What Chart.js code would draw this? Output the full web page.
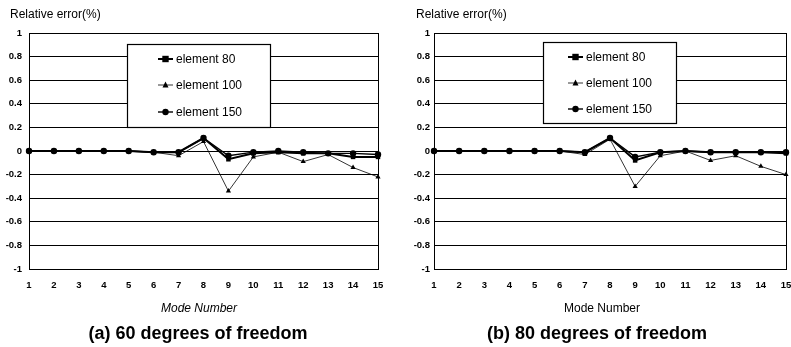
<!DOCTYPE html>
<html lang="en">
<head>
  <meta charset="UTF-8">
  <title>Relative error by mode number</title>
  <script src="https://cdn.jsdelivr.net/npm/chart.js"></script>
  <style>
    body {
      margin: 0;
      background: #fff;
      font-family: "Liberation Sans", Arial, sans-serif;
      color: #000;
    }
    .panel {
      position: absolute;
      top: 0;
      height: 347px;
    }
    .panel canvas {
      position: absolute;
      left: 0;
      top: 0;
    }
    .txt {
      position: absolute;
      white-space: nowrap;
    }
    .ytitle { font-size: 12px; line-height: 14px; top: 7px; }
    .xtitle { font-size: 12px; line-height: 14px; top: 301px; width: 200px; text-align: center; }
    .caption { font-size: 18px; font-weight: bold; line-height: 22px; top: 322px; width: 300px; text-align: center; }
  </style>
</head>
<body>
  <!-- (a) 60 degrees of freedom -->
  <div class="panel" style="left:0; width:395px;">
    <canvas id="chartA" width="395" height="347"></canvas>
    <div class="txt ytitle" style="left:10px;">Relative error(%)</div>
    <div class="txt xtitle" style="left:99px; font-style:italic;">Mode Number</div>
    <div class="txt caption" style="left:48px;">(a) 60 degrees of freedom</div>
  </div>

  <!-- (b) 80 degrees of freedom -->
  <div class="panel" style="left:395px; width:396px;">
    <canvas id="chartB" width="396" height="347"></canvas>
    <div class="txt ytitle" style="left:21px;">Relative error(%)</div>
    <div class="txt xtitle" style="left:107px;">Mode Number</div>
    <div class="txt caption" style="left:52px;">(b) 80 degrees of freedom</div>
  </div>

  <script>
    // mode numbers on the x axis
    const modes = [1, 2, 3, 4, 5, 6, 7, 8, 9, 10, 11, 12, 13, 14, 15];
    const seriesNames = ['element 80', 'element 100', 'element 150'];

    // (a) 60 degrees of freedom
    const a80  = [0, 0, 0, 0, 0, -0.01, -0.01, 0.11, -0.07, -0.02, -0.01, -0.02, -0.02, -0.05, -0.05];
    const a100 = [0, 0, 0, 0, 0, -0.01, -0.04, 0.08, -0.34, -0.05, -0.01, -0.09, -0.03, -0.14, -0.22];
    const a150 = [0, 0, 0, 0, 0, -0.01, -0.01, 0.11, -0.04, -0.01, 0, -0.01, -0.02, -0.02, -0.03];

    // (b) 80 degrees of freedom
    const b80  = [0, 0, 0, 0, 0, 0, -0.01, 0.11, -0.08, -0.01, 0, -0.01, -0.01, -0.01, -0.02];
    const b100 = [0, 0, 0, 0, 0, 0, -0.03, 0.10, -0.30, -0.04, 0, -0.08, -0.04, -0.13, -0.20];
    const b150 = [0, 0, 0, 0, 0, 0, -0.01, 0.11, -0.05, -0.01, 0, -0.01, -0.01, -0.01, -0.01];

    const yMin = -1, yMax = 1, yStep = 0.2;

    const styles = [
      { pointStyle: 'rect', pointRadius: 3.2, borderWidth: 2 },
      { pointStyle: 'triangle', pointRadius: 3, borderWidth: 0.8 },
      { pointStyle: 'circle', pointRadius: 3.2, borderWidth: 1.4 }
    ];

    function toPoints(vals) {
      return vals.map((v, i) => ({ x: modes[i], y: v }));
    }

    // small marker used in the boxed legend
    function marker(ctx, style, r, x, y) {
      ctx.beginPath();
      if (style === 'rect') {
        ctx.rect(x - r, y - r, 2 * r, 2 * r);
      } else if (style === 'triangle') {
        ctx.moveTo(x, y - r * 1.2);
        ctx.lineTo(x + r, y + r * 0.8);
        ctx.lineTo(x - r, y + r * 0.8);
        ctx.closePath();
      } else {
        ctx.arc(x, y, r, 0, Math.PI * 2);
      }
      ctx.fill();
    }

    // plot frame + legend box drawn inside the plot
    const framePlugin = {
      id: 'frameBox',
      afterDatasetsDraw(chart, args, opts) {
        const ctx = chart.ctx;
        const a = chart.chartArea;
        ctx.save();
        ctx.strokeStyle = '#000';
        ctx.lineWidth = 1;
        ctx.strokeRect(a.left + 0.5, a.top + 0.5, a.right - a.left, a.bottom - a.top);

        const b = opts.box;
        ctx.fillStyle = '#fff';
        ctx.fillRect(b.x, b.y, b.w, b.h);
        ctx.lineWidth = 1.2;
        ctx.strokeRect(b.x + 0.5, b.y + 0.5, b.w, b.h);

        ctx.font = '12px "Liberation Sans", Arial, sans-serif';
        ctx.textBaseline = 'middle';
        chart.data.datasets.forEach((ds, i) => {
          const y = opts.rows[i];
          ctx.strokeStyle = '#000';
          ctx.lineWidth = ds.borderWidth;
          ctx.beginPath();
          ctx.moveTo(opts.lineX1, y);
          ctx.lineTo(opts.lineX2, y);
          ctx.stroke();
          ctx.fillStyle = '#000';
          marker(ctx, ds.pointStyle, ds.pointRadius, (opts.lineX1 + opts.lineX2) / 2, y);
          ctx.fillText(ds.label, opts.textX, y + 1);
        });
        ctx.restore();
      }
    };

    function makeChart(id, values, yAxisWidth, yLabelPad, rightPad, legend) {
      return new Chart(document.getElementById(id), {
        type: 'line',
        data: {
          datasets: values.map((vals, i) => ({
            label: seriesNames[i],
            data: toPoints(vals),
            borderColor: '#000',
            backgroundColor: '#000',
            pointBackgroundColor: '#000',
            pointBorderWidth: 0,
            pointStyle: styles[i].pointStyle,
            pointRadius: styles[i].pointRadius,
            borderWidth: styles[i].borderWidth,
            tension: 0,
            clip: false
          }))
        },
        options: {
          responsive: false,
          animation: false,
          events: [],
          layout: { padding: { left: 0, right: rightPad, top: 33, bottom: 0 } },
          plugins: {
            legend: { display: false },
            tooltip: { enabled: false },
            frameBox: legend
          },
          scales: {
            x: {
              type: 'linear',
              min: 1,
              max: 15,
              afterFit: s => { s.height = 78; s.paddingLeft = 0; s.paddingRight = 0; },
              grid: { display: false },
              border: { display: true, color: '#000', width: 1 },
              ticks: {
                stepSize: 1,
                padding: 3,
                color: '#000',
                maxRotation: 0,
                font: { family: '"Liberation Sans", Arial, sans-serif', size: 9.5, weight: 'bold' }
              }
            },
            y: {
              min: yMin,
              max: yMax,
              afterFit: s => { s.width = yAxisWidth; s.paddingTop = 0; s.paddingBottom = 0; },
              grid: { color: '#000', lineWidth: 1, drawTicks: false },
              border: { display: true, color: '#000', width: 1 },
              ticks: {
                stepSize: yStep,
                padding: yLabelPad,
                color: '#000',
                font: { family: '"Liberation Sans", Arial, sans-serif', size: 9.5, weight: 'bold' },
                callback: v => String(Math.round(v * 10) / 10)
              }
            }
          }
        },
        plugins: [framePlugin]
      });
    }

    makeChart('chartA', [a80, a100, a150], 29, 7, 17, {
      box: { x: 127, y: 44, w: 143, h: 83 },
      rows: [59, 85, 112],
      lineX1: 158, lineX2: 173, textX: 176
    });

    makeChart('chartB', [b80, b100, b150], 39, 4, 5, {
      box: { x: 148, y: 42, w: 133, h: 81 },
      rows: [57, 83, 109],
      lineX1: 173, lineX2: 188, textX: 191
    });
  </script>
</body>
</html>
